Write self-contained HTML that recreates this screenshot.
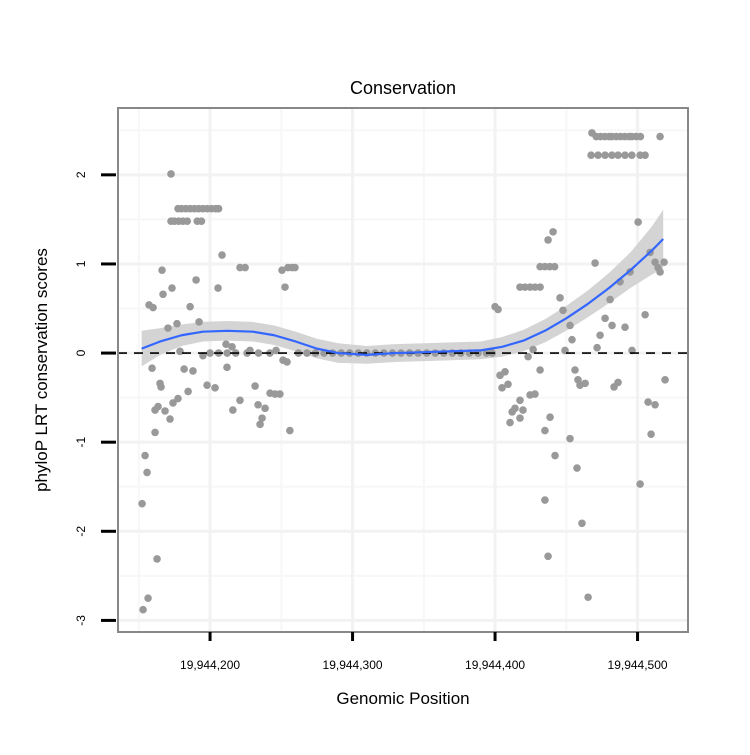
<!DOCTYPE html>
<html><head><meta charset="utf-8"><style>
body{margin:0;background:#fff;}
svg text{font-family:"Liberation Sans",sans-serif;}
</style></head><body>
<svg id="chart" width="750" height="750" xmlns="http://www.w3.org/2000/svg">
<g id="grid"></g>
<g id="band"></g>
<g id="pts"></g>
<g id="overlay"></g>
<g id="axes"></g>
<text x="403" y="94" font-size="18" text-anchor="middle">Conservation</text>
<text x="403" y="704" font-size="17" text-anchor="middle">Genomic Position</text>
<text transform="translate(47,370) rotate(-90)" font-size="17" text-anchor="middle">phyloP LRT conservation scores</text>
</svg>
<script>
const BASE = 19944000;
const xTicks = [200, 300, 400, 500];
const xTickLabels = ["19,944,200", "19,944,300", "19,944,400", "19,944,500"];
const yTicks = [2, 1, 0, -1, -2, -3];
const yTickLabels = ["2", "1", "0", "-1", "-2", "-3"];
const pointX = [152.3,153,154.4,155.8,156.5,157.2,159.3,160,161.4,161.4,162.8,163.5,164.9,165.6,166.3,167,168.4,170.5,171.9,172.6,173.3,174,176.8,177.5,178.9,
177.5,180,183,186,189,192,195,198,201,204,206,
172.6,175,178,181,184,191,194,
181.8,184.6,186,188,190.2,192.3,195,197.9,200,203.5,205.6,208.4,211.2,211.9,215.4,221,224.6,228,231.6,233.7,236.5,238.6,242.1,245.6,249,252.6,250.5,254.7,257.5,259.6,251.2,254,256,246.3,235.1,221,216,
206,212,218,226,234,242,262,268,274,280,286,292,298,304,310,316,322,328,334,340,346,352,358,364,370,376,382,388,394,398,
400,402.1,403.5,404.9,407,409.1,410.5,412,414,417.5,417.5,419.6,417.5,421,424.6,428,431.6,423.2,424.6,426.7,428,431.6,435,437.2,440.7,431.6,435,438.4,441.8,
435,437.2,438.6,442.1,445.6,447.7,449.1,452.6,454,452.6,456.1,457.5,458.2,459.6,461,463.2,465.3,
468,471,474,477,480,482,485,488,491,494,496,499,502,515.8,
467.4,472.3,477.2,482,486.3,491.2,496,501.8,505.3,
470.2,471.6,473.7,477.2,480.7,482.1,483.5,486.3,487.7,491.2,494.7,496.1,500.4,501.8,505.3,508.8,512.3,514.4,515.8,518.6,519.3,512.3,507.4,509.5];
const pointY = [-1.69,-2.88,-1.15,-1.34,-2.75,0.54,-0.17,0.51,-0.64,-0.89,-2.31,-0.6,-0.34,-0.38,0.93,0.66,-0.65,0.28,-0.74,2.01,0.73,-0.56,0.33,-0.51,0.02,
1.62,1.62,1.62,1.62,1.62,1.62,1.62,1.62,1.62,1.62,1.62,
1.48,1.48,1.48,1.48,1.48,1.48,1.48,
-0.18,-0.43,0.52,-0.2,0.82,0.35,-0.03,-0.36,0,-0.39,0.73,1.1,0.1,-0.16,0.07,0.96,0.96,0.03,-0.37,-0.58,-0.73,-0.62,-0.45,-0.46,-0.46,0.74,0.93,0.96,0.96,0.96,-0.08,-0.1,-0.87,0.03,-0.8,-0.53,-0.64,
0,0,0,0,0,0,0,0,0,0,0,0,0,0,0,0,0,0,0,0,0,0,0,0,0,0,0,0,0,0,
0.52,0.49,-0.25,-0.39,-0.21,-0.35,-0.78,-0.66,-0.62,-0.73,-0.53,-0.64,0.74,0.74,0.74,0.74,0.74,-0.04,-0.47,0.04,-0.46,-0.19,-0.87,1.27,1.36,0.97,0.97,0.97,0.97,
-1.65,-2.28,-0.72,-1.15,0.62,0.48,0.03,0.31,0.15,-0.96,-0.19,-1.29,-0.3,-0.36,-1.91,-0.34,-2.74,
2.47,2.43,2.43,2.43,2.43,2.43,2.43,2.43,2.43,2.43,2.43,2.43,2.43,2.43,
2.22,2.22,2.22,2.22,2.22,2.22,2.22,2.22,2.22,
1.01,0.06,0.2,0.39,0.6,0.31,-0.38,-0.33,0.8,0.29,0.91,0.03,1.47,-1.47,0.43,1.13,1.02,0.96,0.91,1.02,-0.3,-0.58,-0.55,-0.91];
const smoothX = [152,165,180,195,212,230,245,260,275,290,310,330,350,370,390,405,420,435,450,465,480,495,510,518];
const smoothY = [0.05,0.13,0.2,0.24,0.25,0.24,0.2,0.13,0.05,0.0,-0.02,0.0,0.01,0.02,0.03,0.07,0.14,0.25,0.39,0.55,0.73,0.93,1.15,1.28];
const smoothSE = [0.2,0.15,0.12,0.11,0.11,0.11,0.11,0.11,0.11,0.11,0.1,0.1,0.1,0.1,0.1,0.11,0.12,0.13,0.14,0.15,0.17,0.2,0.27,0.33];

const L=118,R=688,T=108,B=632;
const xMin=135.4,xMax=535.4,yMin=-3.13,yMax=2.75;
const sx=v=>L+(v-xMin)/(xMax-xMin)*(R-L);
const sy=v=>B-(v-yMin)/(yMax-yMin)*(B-T);
const NS="http://www.w3.org/2000/svg";
function mk(tag,attrs,parent){const e=document.createElementNS(NS,tag);for(const k in attrs)e.setAttribute(k,attrs[k]);parent.appendChild(e);return e;}
const grid=document.getElementById('grid'),band=document.getElementById('band'),pts=document.getElementById('pts'),ov=document.getElementById('overlay'),axes=document.getElementById('axes');
const xMinor=[150,250,350,450];
xMinor.forEach(v=>{const l=mk('line',{x1:sx(v),x2:sx(v),y1:T,y2:B,stroke:'#f7f7f7','stroke-width':2},grid);

});
const yMinorVals=[2.5,1.5,0.5,-0.5,-1.5,-2.5];
yMinorVals.forEach(v=>{const l=mk('line',{x1:L,x2:R,y1:sy(v),y2:sy(v),stroke:'#f7f7f7','stroke-width':2},grid);

});
xTicks.forEach(v=>{const l=mk('line',{x1:sx(v),x2:sx(v),y1:T,y2:B,stroke:'#f2f2f2','stroke-width':3},grid);

});
yTicks.forEach(v=>{const l=mk('line',{x1:L,x2:R,y1:sy(v),y2:sy(v),stroke:'#f2f2f2','stroke-width':3},grid);

});
let d='';
smoothX.forEach((x,i)=>{d+=(i?'L':'M')+sx(x)+','+sy(smoothY[i]+smoothSE[i]);});
for(let i=smoothX.length-1;i>=0;i--)d+='L'+sx(smoothX[i])+','+sy(smoothY[i]-smoothSE[i]);
const bp=mk('path',{d:d+'Z',fill:'#d4d4d4'},band);


pointX.forEach((x,i)=>{const c=mk('circle',{cx:sx(x),cy:sy(pointY[i]),r:3.8,fill:'#999'},pts);

});
const zl=mk('line',{x1:L,x2:R,y1:sy(0),y2:sy(0),stroke:'#000','stroke-width':1.6,'stroke-dasharray':'9,7'},ov);


let sd='';smoothX.forEach((x,i)=>{sd+=(i?'L':'M')+sx(x)+','+sy(smoothY[i]);});
const sl=mk('path',{d:sd,fill:'none',stroke:'#3366ff','stroke-width':2.2,'stroke-linejoin':'round'},ov);


const br=mk('rect',{x:L,y:T,width:R-L,height:B-T,fill:'none',stroke:'#888','stroke-width':2},axes);


xTicks.forEach((v,i)=>{const t=mk('line',{x1:sx(v),x2:sx(v),y1:B,y2:B+9,stroke:'#000','stroke-width':3},axes);


const tx=mk('text',{x:sx(v),y:B+37,'font-size':12,'text-anchor':'middle'},axes);tx.textContent=xTickLabels[i];

});
yTicks.forEach((v,i)=>{const t=mk('line',{x1:L-17,x2:L-2,y1:sy(v),y2:sy(v),stroke:'#000','stroke-width':3},axes);


const tx=mk('text',{transform:`translate(${L-33},${sy(v)}) rotate(-90)`,'font-size':12,'text-anchor':'middle'},axes);tx.textContent=yTickLabels[i];

});
</script>
</body></html>
